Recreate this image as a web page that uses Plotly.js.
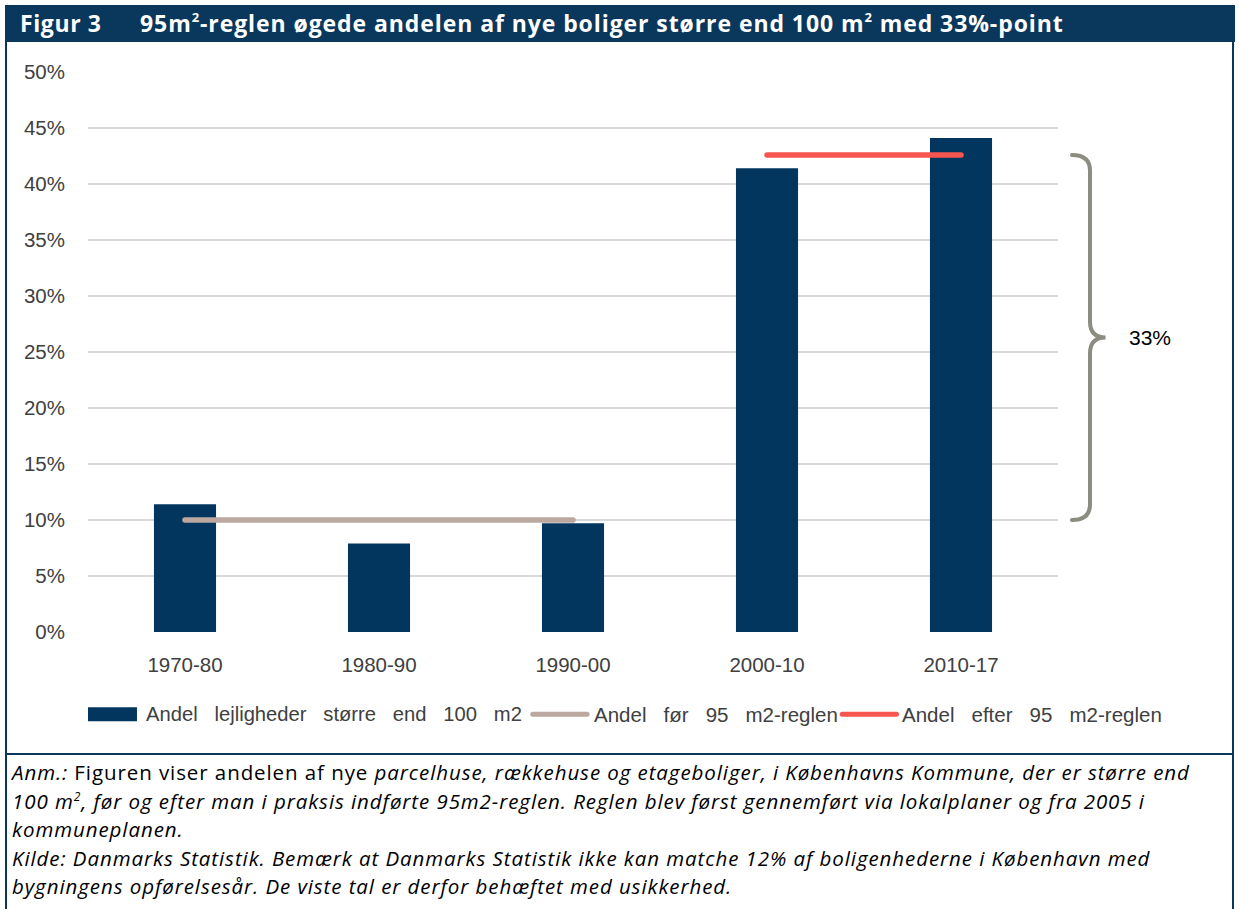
<!DOCTYPE html>
<html>
<head>
<meta charset="utf-8">
<script src="https://cdn.plot.ly/plotly-3.0.1.min.js"></script>
<style>
  html, body { margin:0; padding:0; background:#fff; }
  #wrap { position:relative; width:1239px; height:909px; overflow:hidden; background:#fff; }
  #chart { position:absolute; left:0; top:0; width:1239px; height:909px; }
  #header { position:absolute; left:5px; top:5px; width:1230px; height:37px; background:#0A385C;
            color:#fff; font-family:"Open Sans","Noto Sans",sans-serif; font-weight:bold; font-size:23px;
            line-height:37px; white-space:nowrap; letter-spacing:0.6px; }
  #header .fig { position:absolute; left:15px; }
  #header .ttl { position:absolute; left:135px; letter-spacing:0.92px; }
  #header sup { font-size:13px; line-height:0; position:relative; top:-1px; }
  .bl { position:absolute; background:#0A385C; }
  #notes { position:absolute; left:12px; top:758px; width:1222px; font-family:"Open Sans","Noto Sans",sans-serif;
           font-size:20.5px; line-height:28.5px; color:#000; letter-spacing:0.92px; white-space:nowrap; }
  #notes sup { font-size:12px; line-height:0; }
</style>
</head>
<body>
<div id="wrap">
  <div id="chart"></div>
  <div id="header"><span class="fig">Figur 3</span><span class="ttl">95m<sup>2</sup>-reglen øgede andelen af nye boliger større end 100 m<sup>2</sup> med 33%-point</span></div>
  <div class="bl" style="left:5px;top:42px;width:2px;height:867px;"></div>
  <div class="bl" style="left:1232px;top:42px;width:2px;height:867px;"></div>
  <div class="bl" style="left:5px;top:753px;width:1229px;height:1.5px;"></div>
  <div id="notes"><i>Anm.:</i> Figuren viser andelen af nye <i>parcelhuse, rækkehuse og etageboliger, i Københavns Kommune, der er større end<br>100 m<sup>2</sup>, før og efter man i praksis indførte 95m2-reglen. Reglen blev først gennemført via lokalplaner og fra 2005 i<br>kommuneplanen.<br>Kilde: Danmarks Statistik. Bemærk at Danmarks Statistik ikke kan matche 12% af boligenhederne i København med<br>bygningens opførelsesår. De viste tal er derfor behæftet med usikkerhed.</i></div>
</div>
<script>
// Data
const categories = ['1970-80', '1980-90', '1990-00', '2000-10', '2010-17'];
const shareLarge = [11.4, 7.9, 9.7, 41.4, 44.1];
const beforeCats = ['1970-80', '1980-90', '1990-00'];
const beforeValue = 10.0;
const afterCats = ['2000-10', '2010-17'];
const afterValue = 42.6;
const diffLabel = '33%';
const seriesNames = ['Andel\u00a0\u00a0 lejligheder\u00a0\u00a0 større\u00a0\u00a0 end\u00a0\u00a0 100\u00a0\u00a0 m2',
                     'Andel\u00a0\u00a0 før\u00a0\u00a0 95\u00a0\u00a0 m2-reglen',
                     'Andel\u00a0\u00a0 efter\u00a0\u00a0 95\u00a0\u00a0 m2-reglen'];
const yTicks = [0, 5, 10, 15, 20, 25, 30, 35, 40, 45, 50];

const colBar = '#03365F', colBefore = '#BBA99F', colAfter = '#F6564E';
const font = {family: 'Liberation Sans, Arial, sans-serif', size: 20.5, color: '#404040'};

const traces = [
  {type: 'bar', x: categories, y: shareLarge, name: seriesNames[0],
   marker: {color: colBar, line: {width: 0}}, width: 0.32},
  {type: 'scatter', mode: 'lines', x: beforeCats, y: beforeCats.map(() => beforeValue), name: seriesNames[1],
   line: {color: colBefore, width: 5.5}},
  {type: 'scatter', mode: 'lines', x: afterCats, y: afterCats.map(() => afterValue), name: seriesNames[2],
   line: {color: colAfter, width: 5.5}}
];

// brace between before and after levels (paper x, data y)
const x0 = 1.0144, x1 = 1.033, xt = 1.049;
const mid = (beforeValue + afterValue) / 2;
const r = 1.4;
const bracePath = `M ${x0},${afterValue} Q ${x1},${afterValue} ${x1},${afterValue - r} ` +
  `L ${x1},${mid + r} Q ${x1},${mid} ${xt},${mid} Q ${x1},${mid} ${x1},${mid - r} ` +
  `L ${x1},${beforeValue + r} Q ${x1},${beforeValue} ${x0},${beforeValue}`;

// custom legend (paper coordinates)
const legY = -0.147;
const legendShapes = [
  {type: 'rect', xref: 'paper', yref: 'paper', x0: 0, x1: 0.0505, y0: legY - 0.0125, y1: legY + 0.0125,
   fillcolor: colBar, line: {width: 0}},
  {type: 'line', xref: 'paper', yref: 'paper', x0: 0.4585, x1: 0.5145, y0: legY, y1: legY,
   line: {color: colBefore, width: 5}},
  {type: 'line', xref: 'paper', yref: 'paper', x0: 0.7775, x1: 0.8335, y0: legY, y1: legY,
   line: {color: colAfter, width: 5}}
];
const legendTextX = [0.0575, 0.5195, 0.8370];
const legendAnn = seriesNames.map((n, i) => ({
  xref: 'paper', yref: 'paper', x: legendTextX[i], y: legY, xanchor: 'left', yanchor: 'middle',
  text: n, showarrow: false, font: i === 0 ? Object.assign({}, font, {size: 20.2}) : font
}));

const layout = {
  width: 1239, height: 909,
  margin: {l: 88, r: 181, t: 72, b: 277, pad: 0},
  paper_bgcolor: 'rgba(0,0,0,0)', plot_bgcolor: 'rgba(0,0,0,0)',
  font: font,
  showlegend: false,
  bargap: 0.68,
  xaxis: {type: 'category', tickfont: font, showgrid: false, zeroline: false, showline: false,
          ticks: '', ticklabelstandoff: 18},
  yaxis: {range: [0, 50], tickvals: yTicks, ticktext: yTicks.map(v => v + '%'), tickfont: font,
          showgrid: true, gridcolor: '#D9D9D9', gridwidth: 1.5, zeroline: false, showline: false,
          ticks: '', ticklabelstandoff: 22},
  shapes: [
    {type: 'path', xref: 'paper', yref: 'y', path: bracePath,
     line: {color: '#8C8C80', width: 4}, layer: 'above'}
  ].concat(legendShapes),
  annotations: [
    {xref: 'paper', yref: 'y', x: 1.071, y: mid, xanchor: 'left', yanchor: 'middle', text: diffLabel,
     showarrow: false, font: {family: 'Liberation Sans, Arial, sans-serif', size: 21, color: '#000'}}
  ].concat(legendAnn)
};

Plotly.newPlot('chart', traces, layout, {displayModeBar: false, staticPlot: true}).then(() => {
  document.querySelectorAll('.scatterlayer path.js-line').forEach(p => p.style.strokeLinecap = 'round');
  document.querySelectorAll('.shapelayer path').forEach(p => p.style.strokeLinecap = 'round');
});
</script>
</body>
</html>
